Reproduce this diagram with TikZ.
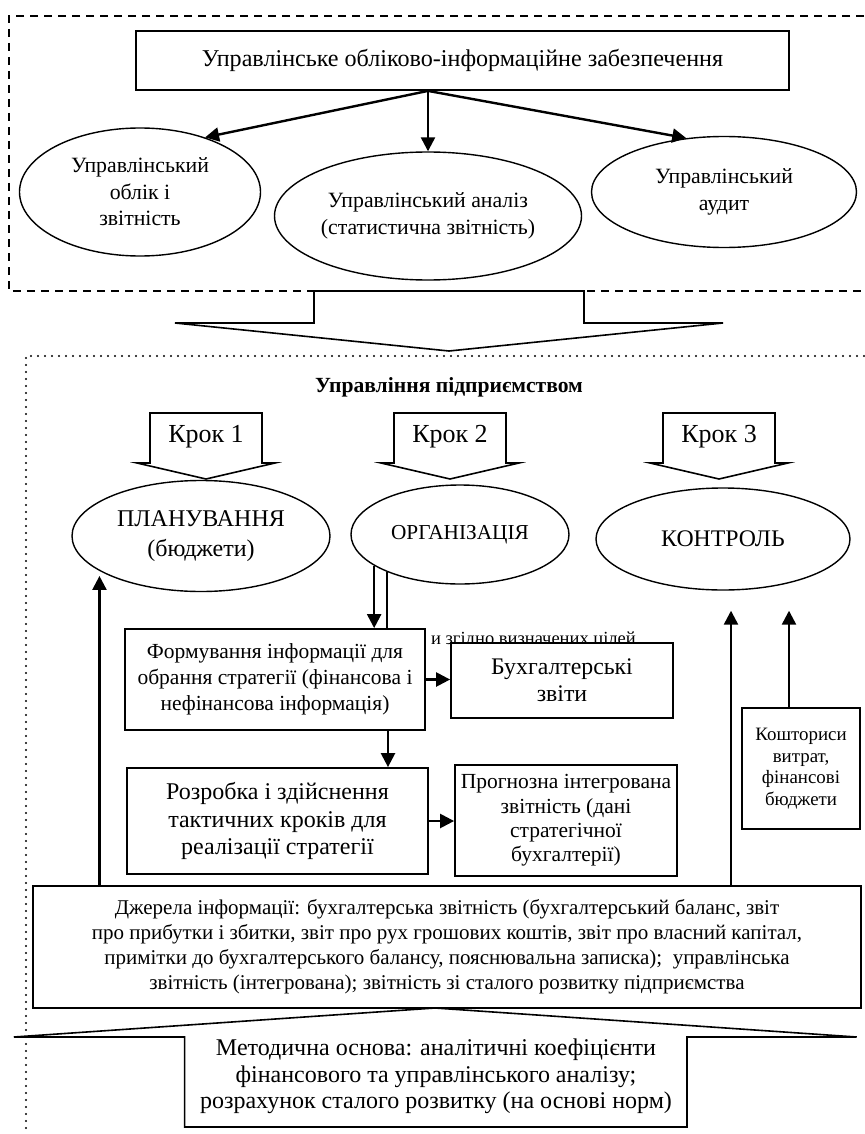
\documentclass[tikz,border=0pt]{standalone}
\usepackage{fontspec}
\setmainfont{Liberation Serif}
\usetikzlibrary{arrows.meta,shapes.geometric,calc}
\newcommand{\fsz}[2]{\fontsize{#1}{#2}\selectfont}
\begin{document}
\begin{tikzpicture}[x=1pt,y=-1pt,
  arr/.style={line width=2.4pt,-{Triangle[length=14pt,width=14pt]}},
  ln/.style={line width=2.4pt},
  bx/.style={draw,line width=1.8pt,fill=white,inner sep=0pt,align=center},
  ell/.style={draw,ellipse,line width=1.4pt,inner sep=0pt,align=center},
  dashedframe/.style={line width=1.5pt,dash pattern=on 8pt off 6pt},
  dottedframe/.style={line width=2.2pt,dash pattern=on 0pt off 7pt,line cap=round},
  bigarrow/.style={draw,line width=1.6pt,line join=miter},
  txt/.style={align=center,inner sep=0pt}
]
\useasboundingbox (0,0) rectangle (864,1134);
\fill[white] (0,0) rectangle (864,1134);

% dashed frame
\draw[dashedframe] (864,16) -- (9,16) -- (9,291) -- (864,291);

\node[bx, minimum width=653pt, minimum height=59pt, font=\fsz{24.1}{28}] (top) at (462.5,60.5)
  {Управлінське обліково-інформаційне забезпечення};

\node[ell, minimum width=241pt, minimum height=128pt, font=\fsz{21.8}{26.5}] (e1) at (140,192)
  {Управлінський\\облік і\\звітність};
\node[ell, minimum width=307pt, minimum height=128pt, font=\fsz{21.8}{27}] (e2) at (428,216)
  {Управлінський аналіз\\(статистична звітність)};
\node[ell, minimum width=265pt, minimum height=111pt, font=\fsz{21.8}{27}] (e3) at (724,192)
  {Управлінський\\аудит};

\coordinate (ts) at (top.south -| e2.north);
\draw[arr] (ts) -- (e1.40);
\draw[arr] (ts) -- (e2.north);
\draw[arr] (ts) -- (e3.125);

% big arrow down
\draw[bigarrow,fill=white] (314,291) -- (314,323) -- (175,323) -- (449,351) -- (723,323) -- (584,323) -- (584,291) -- cycle;

% dotted frame
\draw[dottedframe] (864,356) -- (26,356) -- (26,1134);

\node[txt, font=\fsz{21.6}{25}\bfseries] (title) at (449,387) {Управління підприємством};

\foreach \c/\t/\n in {206/1/k1, 450/2/k2, 719/3/k3} {
  \draw[bigarrow,fill=white] (\c-56,413) -- (\c-56,463) -- (\c-69,463) -- (\c,479) -- (\c+69,463) -- (\c+56,463) -- (\c+56,413) -- cycle;
  \node[txt, font=\fsz{26}{30}] (\n) at (\c,437) {Крок \t};
}

\node[ell, minimum width=258pt, minimum height=111pt, font=\fsz{24}{30}] (plan) at (201,536)
  {ПЛАНУВАННЯ\\(бюджети)};
\node[ell, minimum width=218pt, minimum height=99pt, font=\fsz{21.3}{25}] (org) at (460,534.5)
  {ОРГАНІЗАЦІЯ};
\node[ell, minimum width=254pt, minimum height=102pt, font=\fsz{23.8}{28}] (kon) at (723,539)
  {КОНТРОЛЬ};

% visible end of a text that runs behind the boxes
\node[anchor=base east, inner sep=0pt, font=\fsz{18.5}{22}] (hid) at (636,644)
  {и згідно визначених цілей};

\node[bx, minimum width=300pt, minimum height=101pt, font=\fsz{21.5}{26}] (form) at (275,679.5)
  {Формування інформації для\\обрання стратегії (фінансова і\\нефінансова інформація)};
\node[bx, minimum width=222pt, minimum height=75pt, font=\fsz{23.8}{27}] (buh) at (562,680.5)
  {Бухгалтерські\\звіти};
\node[bx, minimum width=301pt, minimum height=106pt, font=\fsz{24}{27.5}] (roz) at (277.5,821)
  {Розробка і здійснення\\тактичних кроків для\\реалізації стратегії};
\node[bx, minimum width=222pt, minimum height=111pt, font=\fsz{21.5}{24.3}] (prog) at (566,820.5)
  {Прогнозна інтегрована\\звітність (дані\\стратегічної\\бухгалтерії)};
\node[bx, minimum width=118pt, minimum height=121pt, font=\fsz{18.9}{21.7}] (kosh) at (801,768.5)
  {Кошториси\\витрат,\\фінансові\\бюджети};
\node[bx, minimum width=828pt, minimum height=122pt, font=\fsz{21}{25}] (dzh) at (447,947)
  {Джерела інформації: бухгалтерська звітність (бухгалтерський баланс, звіт\\про прибутки і збитки, звіт про рух грошових коштів, звіт про власний капітал,\\примітки до бухгалтерського балансу, пояснювальна записка);\ \ управлінська\\звітність (інтегрована); звітність зі сталого розвитку підприємства};

% methodical arrow up
\draw[bigarrow] (184.6,1127) -- (184.6,1037) -- (13.8,1037) -- (435,1008) -- (856.7,1037) -- (687,1037) -- (687,1127) -- cycle;
\node[txt, font=\fsz{24}{26.5}] (met) at (436,1076.5)
  {Методична основа: аналітичні коефіцієнти\\фінансового та управлінського аналізу;\\розрахунок сталого розвитку (на основі норм)};

% connectors
\draw[arr] (org.200) -- (org.200 |- form.north);
\draw[ln] (org.207) -- (org.207 |- form.north);
\draw[arr] (form.east) -- (form.east -| buh.west);
\coordinate (fs) at ([xshift=113pt]form.south);
\draw[arr] (fs) -- (fs |- roz.north);
\draw[arr] (roz.east) -- (roz.east -| prog.west);
\draw[arr] (plan.199 |- dzh.north) -- ([yshift=-5pt]plan.199);
\coordinate (kA) at ([xshift=8pt,yshift=-20pt]kon.south);
\coordinate (kx) at ([xshift=-12pt]kosh.north);
\draw[arr] (kA |- dzh.north) -- (kA);
\draw[arr] (kx) -- (kx |- kA);
\end{tikzpicture}
\end{document}
